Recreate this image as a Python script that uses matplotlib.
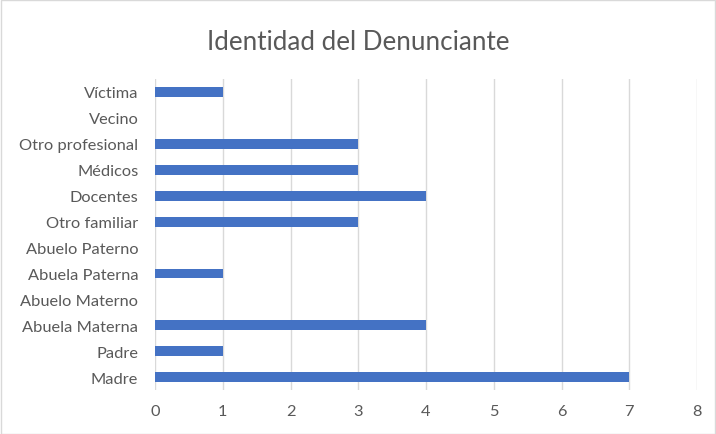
import matplotlib.pyplot as plt
from matplotlib.patches import Rectangle

categories = ["Madre", "Padre", "Abuela Materna", "Abuelo Materno", "Abuela Paterna",
              "Abuelo Paterno", "Otro familiar", "Docentes", "Médicos",
              "Otro profesional", "Vecino", "Víctima"]
values = [7, 1, 4, 0, 1, 0, 3, 4, 3, 3, 0, 1]

plt.rcParams['font.family'] = ['Lato', 'DejaVu Sans']

fig = plt.figure(figsize=(7.16, 4.35), dpi=100)
ax = fig.add_axes([0.2165, 0.101, 0.757, 0.715])

ax.barh(range(len(categories)), values, height=0.38, color="#4472C4", zorder=3)

ax.set_xlim(0, 8)
ax.set_ylim(-0.5, len(categories) - 0.5)
ax.set_xticks(range(0, 9))
ax.set_yticks(range(len(categories)))
ax.set_yticklabels(categories)
ax.tick_params(axis='both', length=0, labelsize=11.8, colors="#595959")
ax.tick_params(axis='x', pad=10)
ax.tick_params(axis='y', pad=12)

ax.grid(axis='x', color="#D9D9D9", linewidth=1, zorder=0)
for s in ["top", "right", "bottom", "left"]:
    ax.spines[s].set_visible(False)

fig.text(0.5, 0.903, "Identidad del Denunciante", ha="center", va="center",
         fontsize=18.7, color="#595959")

fig.patches.append(Rectangle((0.001, 0.001), 0.997, 0.997, transform=fig.transFigure,
                             fill=False, edgecolor="#D9D9D9", linewidth=1))

fig.savefig("out.png", dpi=100)
